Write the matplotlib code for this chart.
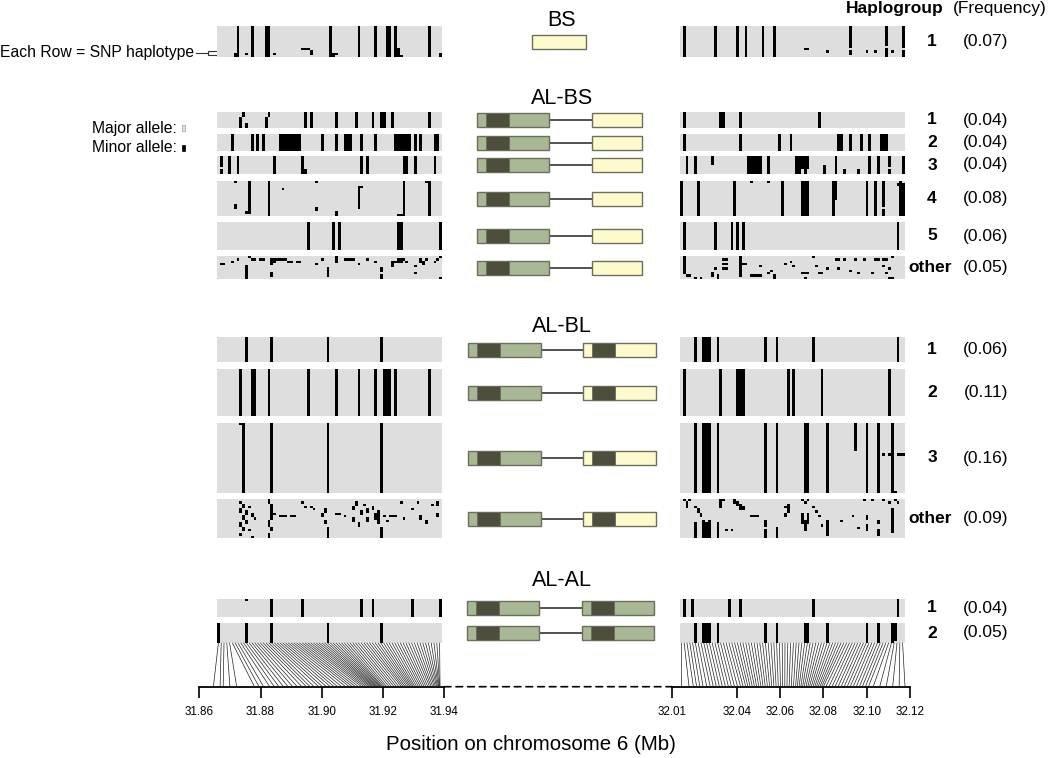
import numpy as np
import matplotlib
matplotlib.use('Agg')
import matplotlib.pyplot as plt
from matplotlib.colors import ListedColormap
from matplotlib.patches import Rectangle, ConnectionPatch

plt.rcParams['font.family'] = ['Liberation Sans', 'DejaVu Sans']

# ---------------- data ----------------
n_left = 80
n_right = 80

# SNP positions (Mb) for the left and right windows
pos_left = [31.8646, 31.8668, 31.8678, 31.8700, 31.8722,
            31.8780, 31.8795, 31.8810, 31.8830, 31.8845, 31.8860, 31.8875,
            31.8890, 31.8905, 31.8920, 31.8935, 31.8950, 31.8962, 31.8975, 31.8990,
            31.9002, 31.9015, 31.9028, 31.9040, 31.9052, 31.9065, 31.9078, 31.9090,
            31.9100, 31.9110, 31.9120, 31.9130, 31.9138, 31.9145, 31.9152, 31.9158, 31.9163, 31.9168,
            31.9172, 31.9176, 31.9180, 31.9184, 31.9188, 31.9192, 31.9196, 31.9200,
            31.9206, 31.9212, 31.9220, 31.9228, 31.9236, 31.9244, 31.9252, 31.9260,
            31.9266, 31.9272, 31.9278, 31.9284, 31.9289, 31.9294, 31.9299, 31.9304,
            31.9310, 31.9316, 31.9322, 31.9328, 31.9334, 31.9340, 31.9346, 31.9352,
            31.9357, 31.9362, 31.9367, 31.9371, 31.9375, 31.9378, 31.9381, 31.9383, 31.9385, 31.9386]
pos_right = [32.0146, 32.0180, 32.0200, 32.0215, 32.0230, 32.0245, 32.0262, 32.0278, 32.0292, 32.0306,
             32.0320, 32.0334, 32.0348, 32.0362, 32.0376, 32.0390, 32.0404, 32.0418, 32.0430, 32.0442,
             32.0452, 32.0462, 32.0472, 32.0482, 32.0492, 32.0502, 32.0512, 32.0522, 32.0532, 32.0542,
             32.0552, 32.0562, 32.0572, 32.0582, 32.0592, 32.0602, 32.0612, 32.0622, 32.0632, 32.0642,
             32.0652, 32.0662, 32.0672, 32.0680, 32.0688, 32.0696, 32.0704, 32.0712, 32.0720, 32.0728,
             32.0736, 32.0744, 32.0752, 32.0760, 32.0768, 32.0776, 32.0784, 32.0792, 32.0800, 32.0812,
             32.0826, 32.0840, 32.0854, 32.0868, 32.0882, 32.0896, 32.0910, 32.0924, 32.0938, 32.0952,
             32.0966, 32.0980, 32.0994, 32.1008, 32.1030, 32.1060, 32.1090, 32.1120, 32.1150, 32.1177]

ticks_left = [31.86, 31.88, 31.90, 31.92, 31.94]
ticks_right = [32.01, 32.04, 32.06, 32.08, 32.10, 32.12]

group_names = ['BS', 'AL-BS', 'AL-BL', 'AL-AL']

bs_labels = ['1']
bs_freq = [0.07]
bs_rows = [14]
al_bs_labels = ['1', '2', '3', '4', '5', 'other']
al_bs_freq = [0.04, 0.04, 0.04, 0.08, 0.06, 0.05]
al_bs_rows = [7, 7, 8, 15, 12, 10]
al_bl_labels = ['1', '2', '3', 'other']
al_bl_freq = [0.06, 0.11, 0.16, 0.09]
al_bl_rows = [11, 20, 30, 17]
al_al_labels = ['1', '2']
al_al_freq = [0.04, 0.05]
al_al_rows = [8, 9]

# minor allele columns: full-height stripes, and partial (col, row0, row1)
bs_left_full = [[7, 12, 17, 18, 40, 50, 56, 60, 61, 63, 75]]
bs_left_part = [[(6, 12, 14), (10, 12, 13), (20, 12, 13), (30, 10, 11), (31, 10, 11), (32, 10, 11),
                 (33, 11, 13), (41, 12, 14), (42, 12, 13), (64, 10, 14), (65, 13, 14), (79, 12, 14)]]
bs_right_full = [[1, 12, 20, 23, 29, 33]]
bs_right_part = [[(44, 10, 11), (45, 10, 11), (52, 11, 12), (60, 0, 10), (60, 11, 13), (66, 11, 12),
                  (69, 11, 12), (73, 0, 9), (73, 10, 14), (75, 11, 12), (79, 0, 10), (79, 11, 14)]]

al_bs_left_full = [[31, 33, 42, 49, 55, 58, 59, 62, 75],
                   [5, 12, 14, 16, 22, 23, 24, 25, 26, 27, 28, 29, 37, 42, 45, 46, 47, 51, 56,
                    63, 64, 65, 66, 67, 68, 70, 72, 77, 78],
                   [4, 7, 20, 30, 51, 53, 66, 67, 70, 77],
                   [18, 66, 75],
                   [32, 41, 43, 64, 65, 79],
                   []]
al_bs_left_part = [[(8, 2, 7), (9, 0, 2), (10, 5, 7), (17, 2, 7), (18, 0, 2)],
                   [],
                   [(1, 0, 5), (1, 6, 8), (31, 6, 8)],
                   [(6, 0, 1), (6, 10, 12), (11, 0, 14), (10, 13, 14), (23, 3, 4), (35, 0, 1), (35, 11, 13),
                    (42, 13, 15), (50, 2, 12), (51, 2, 3), (64, 14, 15), (65, 14, 15), (74, 0, 1)],
                   [],
                   [(1, 3, 4), (2, 3, 4), (5, 2, 3), (7, 1, 2), (10, 4, 10), (11, 0, 1), (12, 1, 2), (13, 1, 2),
                    (15, 1, 2), (16, 1, 2), (19, 1, 4), (19, 7, 9), (20, 1, 3), (21, 1, 2), (22, 1, 2),
                    (23, 1, 2), (24, 1, 2), (25, 2, 3), (26, 2, 3), (28, 2, 3), (29, 2, 3), (35, 3, 4),
                    (37, 1, 2), (39, 5, 9), (42, 0, 3), (45, 1, 2), (46, 1, 2), (47, 1, 2), (48, 1, 2),
                    (50, 3, 4), (53, 1, 2), (56, 2, 3), (58, 5, 7), (58, 8, 10), (62, 2, 5), (63, 2, 3),
                    (64, 1, 3), (65, 1, 3), (66, 1, 2), (67, 2, 3), (70, 4, 5), (70, 7, 8), (72, 1, 3),
                    (73, 2, 4), (74, 1, 2), (77, 2, 3), (78, 1, 2), (79, 0, 1), (79, 9, 10)]]
al_bs_right_full = [[1, 14, 15, 21, 49],
                    [1, 21, 35, 39, 56, 57, 60, 64, 67, 71, 72, 73],
                    [2, 5, 24, 25, 26, 27, 28, 31, 41, 42, 55, 67, 70, 79],
                    [0, 6, 19, 36, 43, 44, 45, 54, 66, 69, 78],
                    [1, 12, 18, 20, 22, 77],
                    []]
al_bs_right_part = [[],
                    [],
                    [(11, 0, 4), (43, 0, 6), (44, 0, 8), (45, 0, 6), (51, 4, 8), (58, 6, 8), (63, 6, 8),
                     (74, 0, 5), (74, 6, 8)],
                    [(25, 0, 1), (31, 0, 1), (55, 0, 8), (72, 0, 11), (72, 12, 15), (77, 1, 2), (79, 1, 15)],
                    [],
                    [(1, 0, 8), (2, 8, 9), (3, 8, 9), (5, 9, 10), (7, 9, 10), (11, 7, 9), (12, 5, 6), (13, 8, 10),
                     (15, 1, 2), (15, 3, 4), (15, 5, 6), (16, 1, 2), (16, 3, 4), (16, 5, 6), (21, 0, 9),
                     (22, 3, 4), (23, 3, 4), (25, 8, 9), (26, 8, 9), (27, 8, 9), (28, 4, 5), (28, 8, 9),
                     (31, 7, 8), (32, 6, 7), (33, 8, 10), (37, 3, 4), (39, 2, 3), (40, 4, 5), (43, 7, 8),
                     (44, 7, 8), (44, 9, 10), (45, 7, 8), (47, 0, 1), (48, 4, 5), (49, 7, 8), (50, 7, 8),
                     (52, 5, 6), (55, 1, 2), (56, 1, 2), (56, 5, 6), (58, 1, 2), (60, 6, 7), (62, 1, 2),
                     (63, 7, 8), (65, 1, 2), (68, 7, 8), (69, 1, 2), (70, 1, 2), (72, 1, 2), (72, 4, 5),
                     (73, 1, 2), (73, 7, 8), (74, 5, 6), (74, 9, 10), (75, 0, 1), (75, 9, 10)]]

al_bl_left_full = [[10, 19, 39, 58],
                   [8, 12, 13, 18, 32, 42, 50, 56, 59, 60, 61, 63, 75],
                   [9, 19, 39, 58],
                   []]
al_bl_left_part = [[],
                   [],
                   [(8, 0, 1)],
                   [(8, 1, 2), (8, 4, 6), (8, 10, 12), (8, 15, 16), (9, 2, 4), (9, 7, 9), (9, 12, 14),
                    (10, 5, 7), (10, 9, 11), (11, 3, 4), (11, 13, 14), (12, 6, 8), (12, 16, 17), (13, 8, 9),
                    (18, 0, 2), (18, 9, 12), (18, 15, 17), (19, 2, 9), (19, 12, 14), (20, 6, 7), (22, 7, 8),
                    (23, 7, 8), (24, 7, 8), (26, 7, 8), (27, 7, 8), (30, 1, 2), (31, 3, 4), (33, 3, 4),
                    (34, 4, 5), (37, 6, 8), (38, 4, 6), (38, 9, 11), (39, 12, 17), (42, 6, 7), (43, 6, 7),
                    (45, 7, 8), (48, 3, 5), (48, 8, 10), (49, 1, 3), (50, 10, 12), (51, 5, 7), (52, 2, 3),
                    (53, 4, 6), (53, 8, 10), (55, 3, 5), (56, 6, 9), (57, 5, 11), (58, 12, 17), (59, 7, 8),
                    (60, 9, 10), (61, 7, 8), (62, 7, 8), (63, 7, 8), (65, 1, 2), (66, 8, 9), (69, 4, 5),
                    (71, 1, 2), (72, 7, 9), (74, 9, 11), (76, 2, 3), (78, 1, 3), (78, 6, 8)]]
al_bl_right_full = [[5, 8, 9, 10, 13, 30, 34, 47, 77],
                    [1, 14, 20, 21, 22, 38, 40, 50, 74],
                    [5, 8, 9, 10, 13, 30, 34, 44, 45, 52, 66, 70],
                    []]
al_bl_right_part = [[],
                    [],
                    [(62, 0, 12), (75, 0, 30), (76, 29, 30), (72, 13, 14), (74, 13, 14), (77, 13, 14),
                     (78, 13, 14), (79, 13, 14)],
                    [(1, 0, 1), (2, 1, 4), (3, 0, 1), (5, 3, 4), (5, 10, 17), (6, 4, 6), (7, 6, 8), (8, 9, 17),
                     (9, 10, 17), (10, 9, 17), (13, 10, 17), (14, 0, 4), (15, 0, 1), (16, 13, 14), (18, 13, 14),
                     (19, 0, 2), (20, 1, 3), (21, 2, 5), (22, 3, 5), (25, 7, 8), (26, 7, 8), (27, 7, 8),
                     (30, 9, 12), (30, 13, 17), (34, 12, 17), (37, 3, 4), (37, 6, 8), (38, 2, 6), (43, 0, 1),
                     (44, 1, 2), (45, 0, 1), (43, 6, 11), (44, 9, 13), (45, 6, 11), (44, 12, 14), (47, 3, 4),
                     (48, 5, 6), (49, 7, 8), (50, 11, 12), (52, 9, 16), (57, 9, 10), (61, 7, 8), (63, 12, 13),
                     (65, 0, 1), (66, 7, 9), (66, 11, 14), (68, 0, 1), (70, 9, 11), (70, 13, 16), (72, 0, 1),
                     (74, 1, 2), (75, 4, 15), (76, 0, 1), (77, 1, 2)]]

al_al_left_full = [[19, 30, 51, 55, 69, 79],
                   [0, 10, 19, 39, 58]]
al_al_left_part = [[(10, 0, 1)], []]
al_al_right_full = [[1, 4, 17, 21, 47, 77],
                    [5, 8, 9, 10, 13, 30, 34, 44, 45, 52, 66, 70, 75]]
al_al_right_part = [[], [(76, 0, 8)]]

# ---------------- layout (pixels) ----------------
W, H = 1050, 758
LEFT_X = (217, 441)
RIGHT_X = (680, 904)

GREEN = '#a8b894'
DARK = '#4d4e3c'
YELLOW = '#fdfbcc'
EDGE = '#6c6d5d'

groups = [
    dict(name='BS', labels=bs_labels, freq=bs_freq, rows=bs_rows,
         lfull=bs_left_full, lpart=bs_left_part, rfull=bs_right_full, rpart=bs_right_part,
         ys=[(26, 57)], title_y=20, genes=[('BS', 532, 54)]),
    dict(name='AL-BS', labels=al_bs_labels, freq=al_bs_freq, rows=al_bs_rows,
         lfull=al_bs_left_full, lpart=al_bs_left_part, rfull=al_bs_right_full, rpart=al_bs_right_part,
         ys=[(112, 128), (134, 151), (156, 174), (181, 216), (222, 250), (256, 279)], title_y=99,
         genes=[('AL', 477, 72), ('BS', 592, 50)]),
    dict(name='AL-BL', labels=al_bl_labels, freq=al_bl_freq, rows=al_bl_rows,
         lfull=al_bl_left_full, lpart=al_bl_left_part, rfull=al_bl_right_full, rpart=al_bl_right_part,
         ys=[(337, 362), (369, 416), (423, 493), (499, 538)], title_y=326,
         genes=[('AL', 468, 73), ('BL', 583, 73)]),
    dict(name='AL-AL', labels=al_al_labels, freq=al_al_freq, rows=al_al_rows,
         lfull=al_al_left_full, lpart=al_al_left_part, rfull=al_al_right_full, rpart=al_al_right_part,
         ys=[(599, 617), (623, 643)], title_y=581,
         genes=[('AL', 467, 72), ('AL', 582, 72)]),
]

fig = plt.figure(figsize=(W / 100, H / 100), dpi=100)


def px_axes(x0, x1, y0, y1):
    return fig.add_axes([x0 / W, 1 - y1 / H, (x1 - x0) / W, (y1 - y0) / H])


ov = fig.add_axes([0, 0, 1, 1])
ov.set_xlim(0, W)
ov.set_ylim(H, 0)
ov.axis('off')

hap_cmap = ListedColormap(['#dedede', '#000000'])


def hap_matrix(n_rows, n_cols, full, parts):
    m = np.zeros((n_rows, n_cols))
    for c in full:
        m[:, c] = 1
    for c, r0, r1 in parts:
        m[r0:r1, c] = 1
    return m


def draw_block(x0, x1, y0, y1, m):
    ax = px_axes(x0, x1, y0, y1)
    ax.imshow(m, cmap=hap_cmap, vmin=0, vmax=1, aspect='auto', interpolation='nearest')
    ax.axis('off')
    return ax


def draw_allele(kind, x0, w, yc, h=14):
    base = GREEN if kind == 'AL' else YELLOW
    ov.add_patch(Rectangle((x0, yc - h / 2), w, h, fc=base, ec=EDGE, lw=1.0, zorder=3))
    if kind in ('AL', 'BL'):
        ov.add_patch(Rectangle((x0 + 0.125 * w, yc - h / 2), 0.32 * w, h, fc=DARK, ec=EDGE,
                               lw=0.6, zorder=4))


last_left = last_right = None
for g in groups:
    ov.text(562, g['title_y'], g['name'], ha='center', va='center', fontsize=15.5)
    for i, (y0, y1) in enumerate(g['ys']):
        nr = g['rows'][i]
        mL = hap_matrix(nr, n_left, g['lfull'][i], g['lpart'][i])
        mR = hap_matrix(nr, n_right, g['rfull'][i], g['rpart'][i])
        last_left = draw_block(LEFT_X[0], LEFT_X[1], y0, y1, mL)
        last_right = draw_block(RIGHT_X[0], RIGHT_X[1], y0, y1, mR)
        yc = (y0 + y1) / 2
        lab = g['labels'][i]
        ov.text(932 if lab != 'other' else 930, yc, lab, ha='center', va='center',
                fontsize=12.5, fontweight='bold')
        ov.text(986, yc, '(%.2f)' % g['freq'][i], ha='center', va='center', fontsize=12.5)
        genes = g['genes']
        if len(genes) == 2:
            ov.plot([genes[0][1] + genes[0][2], genes[1][1]], [yc, yc], color='#333333', lw=1.2, zorder=2)
        for kind, gx, gw in genes:
            draw_allele(kind, gx, gw, yc)

# header and legend text
ov.text(944, 8, 'Haplogroup', ha='right', va='center', fontsize=12.5, fontweight='bold')
ov.text(1000, 8, '(Frequency)', ha='center', va='center', fontsize=12.5)
ov.text(0, 52.5, 'Each Row = SNP haplotype', ha='left', va='center', fontsize=11.3)
ov.plot([196, 208], [52.5, 52.5], color='#333333', lw=0.8)
ov.plot([216, 208, 208, 216], [50.5, 50.5, 54.5, 54.5], color='#333333', lw=0.8)
ov.text(92, 128, 'Major allele:', ha='left', va='center', fontsize=11.3)
ov.text(92, 148, 'Minor allele:', ha='left', va='center', fontsize=11.3)
ov.add_patch(Rectangle((182, 125), 3, 6, fc='#e4e4e4', ec='#999999', lw=0.5))
ov.add_patch(Rectangle((182, 145), 3, 6, fc='black', ec='black', lw=0.5))

# position scales
AXIS_Y = 686.7


def scale_axes(x0, x1, lo, hi, ticks):
    ax = px_axes(x0, x1, AXIS_Y - 10, AXIS_Y)
    ax.set_xlim(lo, hi)
    ax.set_ylim(0, 1)
    for s in ('top', 'left', 'right'):
        ax.spines[s].set_visible(False)
    ax.spines['bottom'].set_linewidth(1.3)
    ax.set_xticks(ticks)
    ax.set_xticklabels(['%.2f' % t for t in ticks])
    ax.set_yticks([])
    ax.tick_params(axis='x', direction='out', length=8, width=1.2, labelsize=8.4, pad=6)
    ax.patch.set_visible(False)
    return ax


axL = scale_axes(199.3, 444.3, 31.86, 31.94, ticks_left)
axR = scale_axes(671.7, 910, 32.01, 32.12, ticks_right)

gap = ConnectionPatch(xyA=(ticks_left[-1], 0), coordsA=axL.transData,
                      xyB=(ticks_right[0], 0), coordsB=axR.transData,
                      color='black', lw=1.2, linestyle=(0, (4, 3)))
fig.add_artist(gap)

for i, p in enumerate(pos_left):
    fig.add_artist(ConnectionPatch(xyA=(i, al_al_rows[-1] - 0.5), coordsA=last_left.transData,
                                   xyB=(p, 0), coordsB=axL.transData, color='#222222', lw=0.5))
for i, p in enumerate(pos_right):
    fig.add_artist(ConnectionPatch(xyA=(i, al_al_rows[-1] - 0.5), coordsA=last_right.transData,
                                   xyB=(p, 0), coordsB=axR.transData, color='#222222', lw=0.5))

ov.text(531, 745, 'Position on chromosome 6 (Mb)', ha='center', va='center', fontsize=14.8)

fig.savefig('out.png', dpi=100)
